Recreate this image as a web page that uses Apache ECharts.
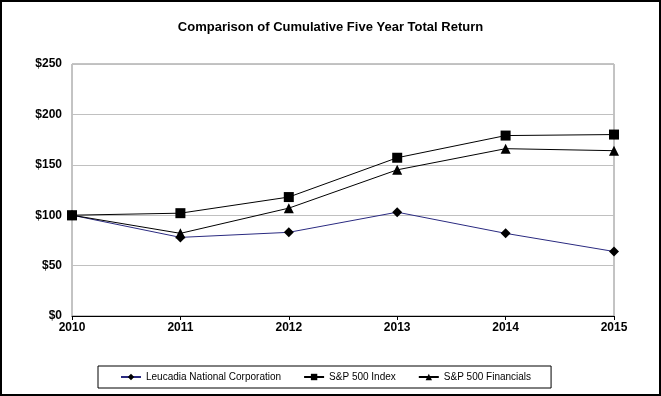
<!DOCTYPE html>
<html>
<head>
<meta charset="utf-8">
<script src="https://cdn.jsdelivr.net/npm/echarts@6/dist/echarts.min.js"></script>
<style>
  html, body { margin: 0; padding: 0; background: #fff; }
  #chart { width: 661px; height: 396px; border: 2px solid #000; box-sizing: border-box; }
</style>
</head>
<body>
<div id="chart"></div>
<script>
// years on the x axis
const years = ['2010', '2011', '2012', '2013', '2014', '2015'];
// cumulative value of $100 invested
const leucadia = [100, 78, 83, 103, 82, 64];
const sp500 = [100, 102, 118, 157, 179, 180];
const spFinancials = [100, 82, 107, 145, 166, 164];

let chart = echarts.init(document.getElementById('chart'));

let option = {
  animation: false,
  textStyle: { fontFamily: 'Liberation Sans' },
  title: {
    text: 'Comparison of Cumulative Five Year Total Return',
    left: 'center',
    top: 14,
    textStyle: { fontSize: 13, fontWeight: 'bold', color: '#000', fontFamily: 'Liberation Sans' }
  },
  grid: {
    left: 70,
    right: 45,
    top: 62,
    bottom: 78,
    show: true,
    borderColor: '#888',
    borderWidth: 1
  },
  legend: {
    left: 96,
    top: 364,
    padding: [6, 20, 6, 22],
    borderColor: '#000',
    borderWidth: 1,
    itemGap: 22,
    itemWidth: 20,
    itemHeight: 8,
    textStyle: { fontSize: 10, color: '#000', fontFamily: 'Liberation Sans' },
    data: ['Leucadia National Corporation', 'S&P 500 Index', 'S&P 500 Financials']
  },
  xAxis: {
    type: 'category',
    data: years,
    boundaryGap: false,
    axisLine: { lineStyle: { color: '#000', width: 1 } },
    axisTick: { show: true, length: 4, lineStyle: { color: '#000' } },
    axisLabel: { color: '#000', fontWeight: 'bold', fontSize: 12, margin: 6 }
  },
  yAxis: {
    type: 'value',
    min: 0,
    max: 250,
    interval: 50,
    axisLine: { show: false },
    axisTick: { show: false },
    splitLine: { lineStyle: { color: '#c0c0c0' } },
    axisLabel: {
      color: '#000', fontWeight: 'bold', fontSize: 12, margin: 10,
      formatter: v => '$' + v
    }
  },
  series: [
    {
      name: 'Leucadia National Corporation',
      type: 'line',
      data: leucadia,
      symbol: 'diamond',
      symbolSize: 10,
      lineStyle: { color: '#2a2a80', width: 1 },
      itemStyle: { color: '#000' },
      z: 3
    },
    {
      name: 'S&P 500 Index',
      type: 'line',
      data: sp500,
      symbol: 'rect',
      symbolSize: 10,
      lineStyle: { color: '#000', width: 1 },
      itemStyle: { color: '#000' }
    },
    {
      name: 'S&P 500 Financials',
      type: 'line',
      data: spFinancials,
      symbol: 'triangle',
      symbolSize: 10,
      lineStyle: { color: '#000', width: 1 },
      itemStyle: { color: '#000' }
    }
  ]
};

chart.setOption(option);
</script>
</body>
</html>
